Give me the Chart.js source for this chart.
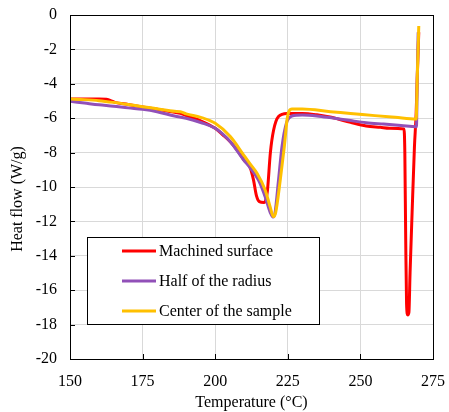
<!DOCTYPE html>
<html>
<head>
<meta charset="utf-8">
<script src="https://cdn.jsdelivr.net/npm/chart.js@4.4.1/dist/chart.umd.min.js"></script>
<style>
  html, body { margin: 0; padding: 0; background: #ffffff; }
  #wrap { width: 449px; height: 412px; }
</style>
</head>
<body>
<div id="wrap"><canvas id="c" width="449" height="412"></canvas></div>
<script>
// ---- Data ----
const seriesNames = ["Machined surface", "Half of the radius", "Center of the sample"];
const seriesColors = ["#FF0000", "#9150B8", "#FFC000"];
const xTitle = "Temperature (°C)";
const yTitle = "Heat flow (W/g)";

const machinedT = [150, 155, 160, 162.5, 165.5, 170, 175, 180, 186, 188, 190, 195, 200, 202.5, 205.2, 208, 210, 212.1, 213.2, 214.2, 215.2, 216.8, 217.5, 218, 219, 220.1, 221.8, 224.7, 230, 235, 240, 246.6, 252, 256.9, 260, 265, 265.3, 265.6, 265.9, 266.3, 266.7, 267.1, 267.8, 268.6, 269.2, 269.6, 270.1];
const machinedHF = [-4.88, -4.88, -4.88, -4.9, -5.08, -5.2, -5.35, -5.48, -5.65, -5.72, -5.85, -6.15, -6.59, -6.95, -7.37, -7.95, -8.45, -8.9, -9.6, -10.5, -10.85, -10.9, -10.7, -10.2, -8.0, -6.7, -5.9, -5.72, -5.72, -5.8, -5.95, -6.24, -6.45, -6.53, -6.58, -6.62, -8.0, -13.0, -16.8, -17.44, -17.3, -15.0, -11.5, -7.7, -5.7, -3.5, -1.0];

const halfT = [150, 155, 160, 165, 170, 175, 180, 186, 190, 195, 200, 205.2, 209.8, 212.1, 214.9, 217.2, 219, 219.9, 220.6, 221.8, 223, 224.5, 226.4, 230, 235, 240, 246.6, 252, 258, 264, 269.3, 269.6, 269.9];
const halfHF = [-5.02, -5.12, -5.22, -5.3, -5.4, -5.48, -5.62, -5.87, -6.0, -6.25, -6.59, -7.37, -8.43, -8.9, -9.6, -10.56, -11.5, -11.75, -11.5, -9.6, -7.65, -6.3, -5.87, -5.82, -5.87, -5.98, -6.14, -6.26, -6.34, -6.42, -6.5, -3.5, -1.0];

const centerT = [150, 155, 160, 165, 170, 175, 180, 186, 188, 190, 195, 200, 205.2, 209.8, 212, 214.4, 217.2, 219, 220, 220.8, 222.4, 223.8, 224.9, 226.4, 230, 239.7, 246.6, 255, 262, 269.2, 269.6, 270.1];
const centerHF = [-4.88, -4.92, -4.98, -5.08, -5.2, -5.33, -5.45, -5.6, -5.62, -5.75, -5.95, -6.3, -7.07, -8.14, -8.65, -9.2, -10.17, -11.2, -11.72, -11.5, -9.6, -7.65, -5.9, -5.47, -5.47, -5.62, -5.72, -5.85, -5.95, -6.05, -3.5, -0.64];

const xTicks = [150, 175, 200, 225, 250, 275];
const yTicks = [0, -2, -4, -6, -8, -10, -12, -14, -16, -18, -20];

const FONT = "'Liberation Serif', 'Times New Roman', serif";

function pts(xs, ys) { return xs.map((x, i) => ({ x: x, y: ys[i] })); }

const datasets = [
  { label: seriesNames[0], data: pts(machinedT, machinedHF), borderColor: seriesColors[0], order: 2 },
  { label: seriesNames[1], data: pts(halfT, halfHF), borderColor: seriesColors[1], order: 1 },
  { label: seriesNames[2], data: pts(centerT, centerHF), borderColor: seriesColors[2], order: 0 }
].map(d => Object.assign(d, {
  borderWidth: 3, pointRadius: 0, fill: false,
  cubicInterpolationMode: 'monotone', backgroundColor: d.borderColor
}));

const framePlugin = {
  id: 'frame',
  afterDraw(chart) {
    const ctx = chart.ctx;
    ctx.save();
    ctx.font = "16px " + FONT;
    ctx.fillStyle = '#000';
    ctx.textAlign = 'center';
    ctx.textBaseline = 'middle';
    ctx.translate(18, 199);
    ctx.rotate(-Math.PI / 2);
    ctx.fillText(yTitle, 0, 0);
    ctx.restore();
  },
  afterDatasetsDraw(chart) {
    const ctx = chart.ctx;
    const a = chart.chartArea;
    const xs = chart.scales.x, ys = chart.scales.y;
    ctx.save();
    // frame
    ctx.strokeStyle = '#000';
    ctx.lineWidth = 1;
    ctx.strokeRect(Math.round(a.left) + 0.5, Math.round(a.top) + 0.5, Math.round(a.right - a.left), Math.round(a.bottom - a.top));
    // inner tick marks
    ctx.beginPath();
    xTicks.forEach(v => {
      const px = Math.round(xs.getPixelForValue(v)) + 0.5;
      ctx.moveTo(px, a.bottom); ctx.lineTo(px, a.bottom - 5);
    });
    yTicks.forEach(v => {
      const py = Math.round(ys.getPixelForValue(v)) + 0.5;
      ctx.moveTo(a.left, py); ctx.lineTo(a.left + 5, py);
    });
    ctx.stroke();
    // legend box
    const bx = 87, by = 237, bw = 232, bh = 87;
    ctx.fillStyle = '#fff';
    ctx.fillRect(bx, by, bw, bh);
    ctx.strokeRect(bx + 0.5, by + 0.5, bw, bh);
    const rows = [251, 281, 311];
    ctx.font = "16px " + FONT;
    ctx.textBaseline = 'middle';
    ctx.textAlign = 'left';
    chart.data.datasets.forEach((d, i) => {
      const y = rows[i];
      ctx.strokeStyle = d.borderColor;
      ctx.lineWidth = 3;
      ctx.beginPath();
      ctx.moveTo(122, y); ctx.lineTo(156, y);
      ctx.stroke();
      ctx.fillStyle = '#000';
      ctx.fillText(d.label, 159, y + 1);
    });
    ctx.restore();
  }
};

new Chart(document.getElementById('c'), {
  type: 'line',
  data: { datasets: datasets },
  options: {
    responsive: false,
    animation: false,
    devicePixelRatio: 1,
    layout: { padding: { left: 0, right: 16, top: 15, bottom: 0 } },
    plugins: { legend: { display: false }, tooltip: { enabled: false } },
    scales: {
      x: {
        type: 'linear', min: 150, max: 275,
        afterBuildTicks: s => { s.ticks = xTicks.map(v => ({ value: v })); },
        afterFit: s => { s.height = 53; s.paddingLeft = 0; s.paddingRight = 0; },
        grid: { color: '#d9d9d9', lineWidth: 1, drawTicks: false },
        border: { display: true, color: '#000', width: 1 },
        ticks: { color: '#000', font: { family: FONT, size: 16 }, padding: 13, maxRotation: 0 },
        title: { display: true, text: xTitle, color: '#000', font: { family: FONT, size: 16 }, padding: { top: 0, bottom: 0 } }
      },
      y: {
        type: 'linear', min: -20, max: 0,
        afterBuildTicks: s => { s.ticks = yTicks.map(v => ({ value: v })); },
        afterFit: s => { s.width = 70; s.paddingTop = 0; s.paddingBottom = 0; },
        grid: { color: '#d9d9d9', lineWidth: 1, drawTicks: false },
        border: { display: true, color: '#000', width: 1 },
        ticks: { color: '#000', font: { family: FONT, size: 16 }, padding: 13 },
        title: { display: false }
      }
    }
  },
  plugins: [framePlugin]
});
</script>
</body>
</html>
